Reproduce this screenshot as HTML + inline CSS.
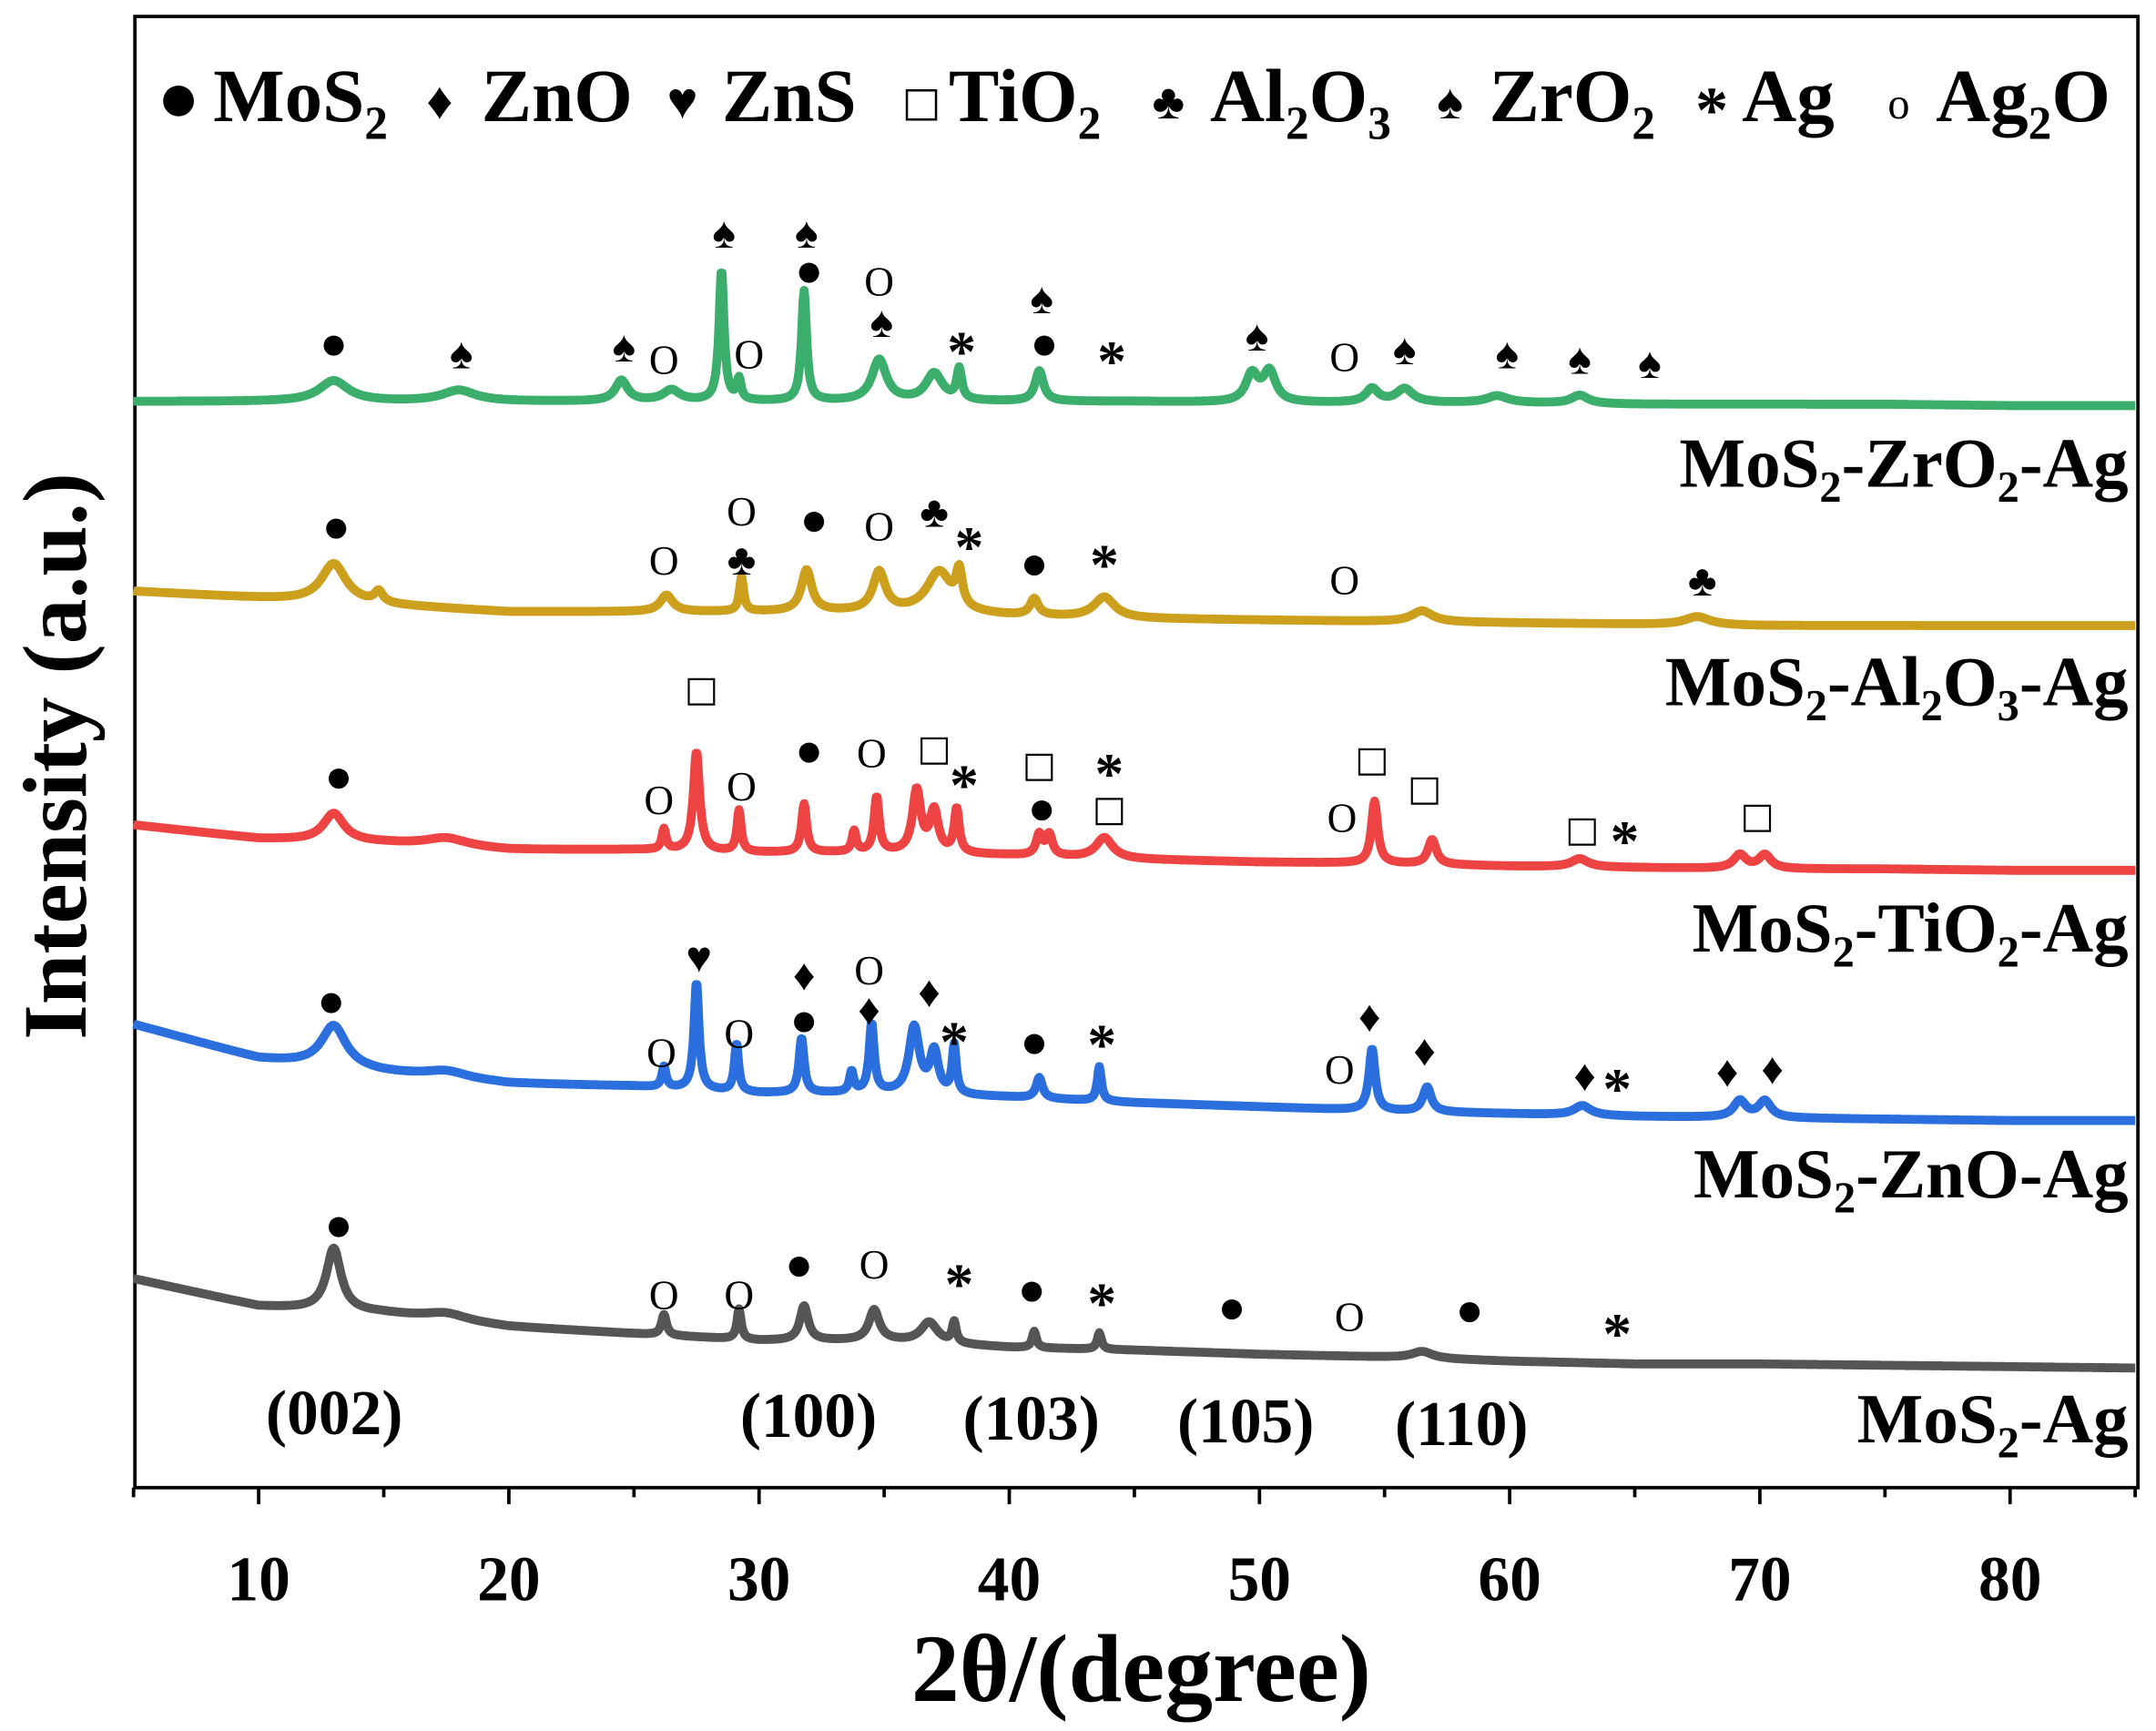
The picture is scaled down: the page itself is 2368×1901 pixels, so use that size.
<!DOCTYPE html>
<html><head><meta charset="utf-8"><style>
html,body{margin:0;padding:0;background:#fff;}
svg{display:block;font-family:"Liberation Serif",serif;font-weight:bold;}
</style></head><body>
<svg id="chart" width="2368" height="1901" viewBox="0 0 1568 1259" xmlns="http://www.w3.org/2000/svg">
<rect x="98" y="12" width="1457" height="1070" fill="none" stroke="#000" stroke-width="2.5"/>
<g id="axis"></g>
<g id="curves"></g>
<g id="marks"></g>
<g font-size="55">
<text x="114" y="88" font-size="52">●</text><text x="155" y="88">MoS<tspan font-size="34" dy="13">2</tspan></text>
<text x="310" y="86" font-size="38">♦</text><text x="350" y="88">ZnO</text>
<text x="485" y="86" font-size="38">♥</text><text x="525" y="88">ZnS</text>
<text x="656" y="84" font-size="30" font-weight="normal" font-family="DejaVu Sans,sans-serif">□</text><text x="690" y="88">TiO<tspan font-size="34" dy="13">2</tspan></text>
<text x="838" y="86" font-size="36">♣</text><text x="880" y="88">Al<tspan font-size="34" dy="13">2</tspan><tspan dy="-13">O</tspan><tspan font-size="34" dy="13">3</tspan></text>
<text x="1045" y="86" font-size="36">♠</text><text x="1083" y="88">ZrO<tspan font-size="34" dy="13">2</tspan></text>
<text x="1233" y="96" font-size="48">*</text><text x="1267" y="88">Ag</text>
<text x="1373" y="86" font-size="32" font-weight="normal">o</text><text x="1408" y="88">Ag<tspan font-size="34" dy="13">2</tspan><tspan dy="-13">O</tspan></text>
</g>
<g font-size="51" text-anchor="end">
<text x="1548" y="354">MoS<tspan font-size="32" dy="11">2</tspan><tspan dy="-11">-ZrO</tspan><tspan font-size="32" dy="11">2</tspan><tspan dy="-11">-Ag</tspan></text>
<text x="1548" y="513">MoS<tspan font-size="32" dy="11">2</tspan><tspan dy="-11">-Al</tspan><tspan font-size="32" dy="11">2</tspan><tspan dy="-11">O</tspan><tspan font-size="32" dy="11">3</tspan><tspan dy="-11">-Ag</tspan></text>
<text x="1548" y="692">MoS<tspan font-size="32" dy="11">2</tspan><tspan dy="-11">-TiO</tspan><tspan font-size="32" dy="11">2</tspan><tspan dy="-11">-Ag</tspan></text>
<text x="1548" y="871">MoS<tspan font-size="32" dy="11">2</tspan><tspan dy="-11">-ZnO-Ag</tspan></text>
<text x="1548" y="1049">MoS<tspan font-size="32" dy="11">2</tspan><tspan dy="-11">-Ag</tspan></text>
</g>
<g font-size="46" text-anchor="middle">
<text x="243" y="1043">(002)</text><text x="588" y="1045">(100)</text><text x="750" y="1047">(103)</text><text x="906" y="1049">(105)</text><text x="1063" y="1051">(110)</text>
</g>
<text x="830" y="1237" font-size="70" text-anchor="middle">2θ/(degree)</text>
<text transform="translate(62,550) rotate(-90)" font-size="66" text-anchor="middle">Intensity (a.u.)</text>
</svg>
<script>
const xTicks=[10,20,30,40,50,60,70,80];
const bgDeg=[5,10,15,20,25,30,35,40,45,50,55,60,65,70,75,80,85];
const bgGreen=[8,8,8,8,8,8,8,8,8,7,7,7,6,6,6,5,5];
const bgGold=[30,25,20,15,15,15,15,12,10,9,8,7,6,5,5,5,5];
const bgRed=[40,30,27,22,22,20,20,18,15,13,12,10,9,8,8,7,7];
const bgBlue=[75,50,40,32,30,25,25,22,18,15,12,10,8,7,6,5,5];
const bgGray=[70,50,45,35,30,25,25,20,18,15,13,10,8,8,7,6,5];
const pkGreen=[[13,15,0.7],[18,8,0.8],[24.5,15,0.3],[26.5,8,0.4],[28.5,95,0.12],[29.2,15,0.1],[31.8,80,0.12],[34.8,30,0.35],[37,20,0.4],[38,22,0.12],[41.2,22,0.2],[49.7,20,0.3],[50.4,22,0.3],[54.5,10,0.3],[55.8,10,0.4],[59.5,5,0.5],[62.8,6,0.4]];
const pkGold=[[13,28,0.6],[14.8,8,0.2],[26.3,12,0.3],[29.3,25,0.1],[31.9,30,0.25],[34.8,28,0.3],[37.2,30,0.6],[38,25,0.15],[41,12,0.2],[43.8,15,0.5],[56.5,8,0.5],[67.5,6,0.6]];
const pkRed=[[13,20,0.5],[17.5,6,1],[26.2,15,0.1],[27.5,72,0.15],[29.2,30,0.1],[31.8,35,0.12],[33.8,15,0.1],[34.7,40,0.12],[36.3,45,0.2],[37,30,0.2],[37.9,32,0.12],[41.2,15,0.15],[41.6,15,0.15],[43.8,15,0.4],[54.6,45,0.15],[56.9,18,0.2],[62.8,6,0.4],[69.2,10,0.3],[70.2,10,0.3]];
const pkBlue=[[13,30,0.6],[17.5,5,1],[26.2,15,0.1],[27.5,78,0.12],[29.1,35,0.1],[31.7,40,0.12],[33.7,15,0.1],[34.5,50,0.12],[36.2,48,0.25],[37,30,0.2],[37.8,35,0.1],[41.2,15,0.15],[43.6,25,0.1],[54.5,45,0.15],[56.7,18,0.2],[62.9,7,0.4],[69.2,12,0.3],[70.2,12,0.3]];
const pkGray=[[13,45,0.35],[17.5,5,1],[26.2,15,0.12],[29.2,22,0.1],[31.8,25,0.2],[34.6,22,0.25],[36.8,15,0.4],[37.8,15,0.1],[41,12,0.1],[43.6,12,0.1],[56.5,5,0.5]];
const mkGreen=[[13.0,250,'●'],[18.1,258,'♠'],[24.6,253,'♠'],[26.2,262,'O'],[28.6,170,'♠'],[29.6,258,'O'],[31.9,170,'♠'],[32.0,197,'●'],[34.8,205,'O'],[34.9,235,'♠'],[38.1,248,'*'],[41.3,218,'♠'],[41.4,250,'●'],[44.1,255,'*'],[49.9,245,'♠'],[53.4,260,'O'],[55.8,255,'♠'],[59.9,258,'♠'],[62.8,262,'♠'],[65.6,265,'♠']];
const mkGold=[[13.1,383,'●'],[26.2,408,'O'],[29.3,372,'O'],[29.3,408,'♣'],[32.2,378,'●'],[34.8,383,'O'],[37.0,373,'♣'],[38.4,390,'*'],[41.0,410,'●'],[43.8,403,'*'],[53.4,422,'O'],[67.7,423,'♣']];
const mkRed=[[27.7,500,'□'],[13.2,565,'●'],[26.0,582,'O'],[29.3,572,'O'],[32.0,546,'●'],[34.5,548,'O'],[37.0,543,'□'],[38.2,563,'*'],[41.2,555,'□'],[41.3,588,'●'],[44.0,555,'*'],[44.0,587,'□'],[53.3,595,'O'],[54.5,551,'□'],[56.6,572,'□'],[62.9,602,'□'],[64.6,604,'*'],[69.9,592,'□']];
const mkBlue=[[12.9,728,'●'],[27.6,697,'♥'],[26.1,766,'O'],[29.2,752,'O'],[31.8,710,'♦'],[31.8,742,'●'],[34.4,706,'O'],[34.4,735,'♦'],[36.8,722,'♦'],[37.8,750,'*'],[41.0,758,'●'],[43.7,752,'*'],[53.2,778,'O'],[54.4,740,'♦'],[56.6,765,'♦'],[63.0,783,'♦'],[64.3,784,'*'],[68.7,780,'♦'],[70.5,778,'♦']];
const mkGray=[[13.2,891,'●'],[26.2,942,'O'],[29.2,942,'O'],[31.6,920,'●'],[34.6,920,'O'],[38.0,926,'*'],[40.9,938,'●'],[43.7,940,'*'],[48.9,951,'●'],[53.6,958,'O'],[58.4,953,'●'],[64.3,962,'*']];

const NS='http://www.w3.org/2000/svg';
const xS=d=>97+(d-5)*18.2;
function el(tag,attrs,parent){const e=document.createElementNS(NS,tag);for(const k in attrs)e.setAttribute(k,attrs[k]);parent.appendChild(e);return e;}
const axis=document.getElementById('axis');
for(let t=5;t<=85;t+=5){
  const major=t%10===0;
  const l=el('line',{x1:xS(t),x2:xS(t),y1:1082,y2:1082+(major?12:7),stroke:'#000','stroke-width':2.5},axis);
  
  
}
xTicks.forEach(t=>{
  const tx=el('text',{x:xS(t),y:1164,'font-size':46,'text-anchor':'middle'},axis);
  tx.textContent=t;
  
  
});
function bgAt(bg,d){for(let i=0;i<bgDeg.length-1;i++){if(d<=bgDeg[i+1]){const f=(d-bgDeg[i])/(bgDeg[i+1]-bgDeg[i]);return bg[i]+f*(bg[i+1]-bg[i]);}}return bg[bg.length-1];}
const series=[
 ['curve-zro2',bgGreen,pkGreen,300,'#3aae6a'],
 ['curve-al2o3',bgGold,pkGold,460,'#cc9f1c'],
 ['curve-tio2',bgRed,pkRed,640,'#ee4343'],
 ['curve-zno',bgBlue,pkBlue,820,'#2a6fdd'],
 ['curve-mos2',bgGray,pkGray,1000,'#555555']];
const curves=document.getElementById('curves');
series.forEach(([name,bg,pk,off,col])=>{
  let d='';
  for(let x=5;x<=85.001;x+=0.04){
    let v=bgAt(bg,x);
    pk.forEach(([p,h,w])=>{v+=h*w*w/((x-p)*(x-p)+w*w);});
    d+=(d?'L':'M')+xS(x).toFixed(1)+','+(off-v).toFixed(1);
  }
  const p=el('path',{d:d,fill:'none',stroke:col,'stroke-width':6.5,'stroke-linejoin':'round'},curves);
  
  
});
const marks=document.getElementById('marks');
[mkGreen,mkGold,mkRed,mkBlue,mkGray].forEach(arr=>arr.forEach(([dg,y,s])=>{
  let fs=32,dy=10,fam='Liberation Serif',fw='bold';
  if(s==='*'){fs=42;dy=22;}
  if(s==='O'){fs=30;dy=10;fw='normal';}
  if(s==='□'){fs=26;fam='DejaVu Sans';fw='normal';}
  if(s==='●'){fs=34;dy=11;}
  const t=el('text',{x:xS(dg),y:y+dy,'font-size':fs,'text-anchor':'middle','font-family':fam,'font-weight':fw},marks);
  t.textContent=s;
  
  
}));
</script>
</body></html>
